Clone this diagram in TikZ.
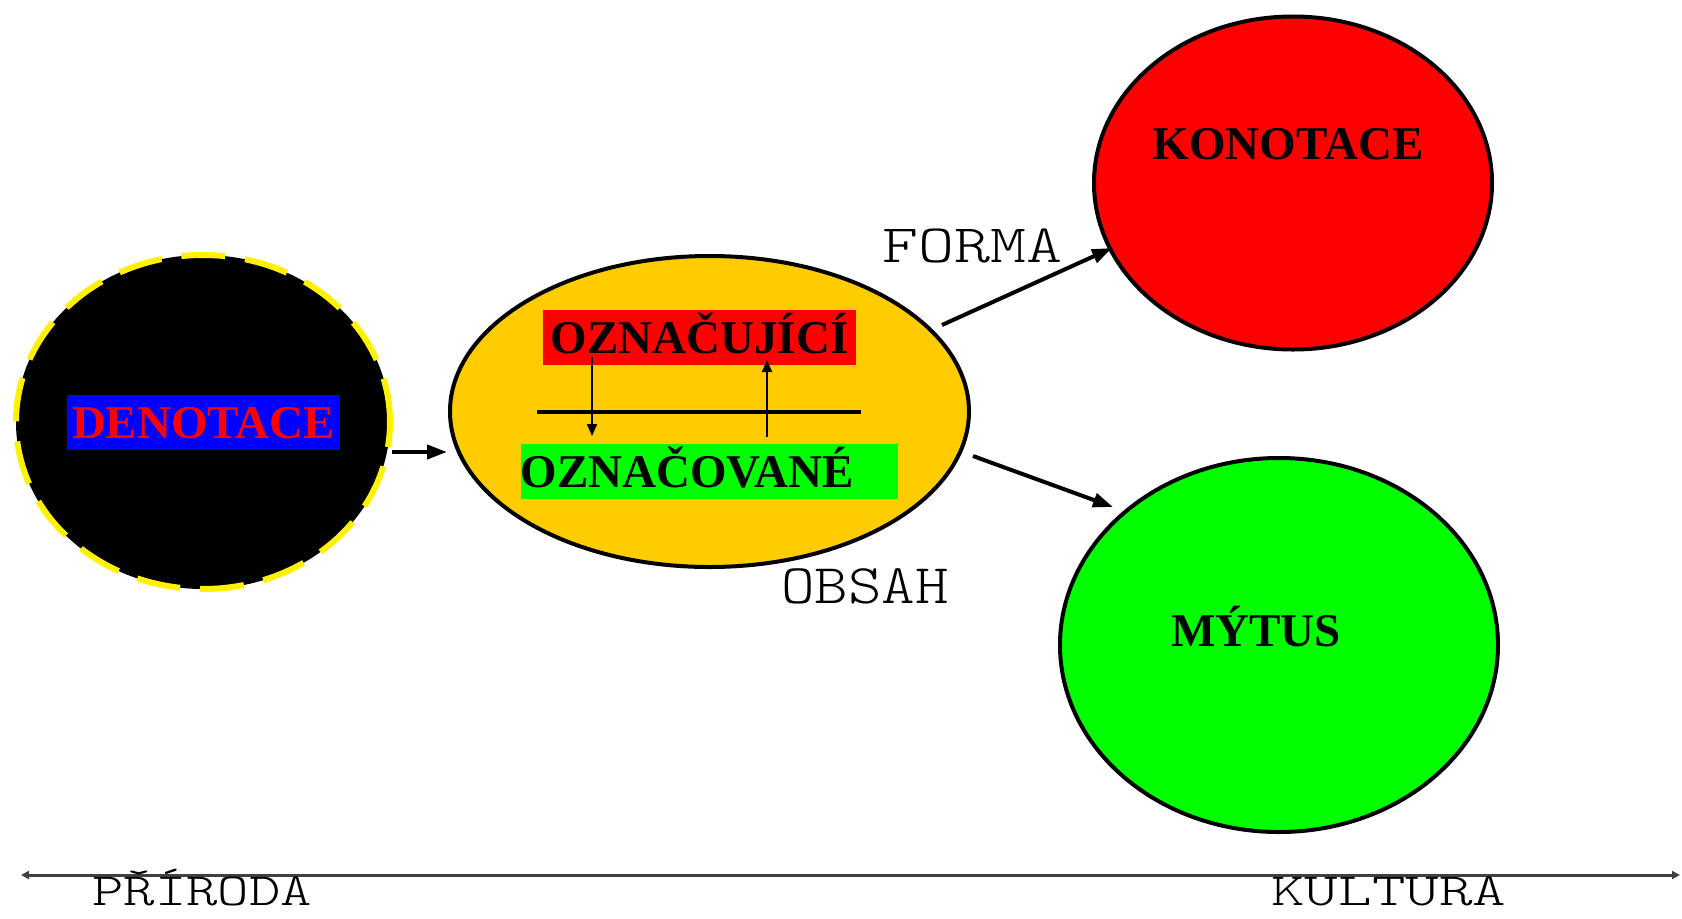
\documentclass[tikz,border=0pt]{standalone}
\usepackage{fontspec}
\usepackage{graphicx}
\setmainfont{Liberation Serif}
\newfontfamily\monofam{Latin Modern Mono Light}
\usetikzlibrary{arrows.meta,shapes.geometric}
\definecolor{ora}{HTML}{FFCC00}
\begin{document}
\begin{tikzpicture}[x=0.5bp,y=-0.5bp,
  bigtxt/.style={font=\fontsize{23.5bp}{28bp}\selectfont\bfseries},
  monotxt/.style={font=\fontsize{#1}{#1}\selectfont\monofam, inner sep=0},
  box/.style={bigtxt, inner sep=0, text height=21.5bp, text depth=6bp},
  blob/.style={ellipse, inner sep=0},
  conn/.style={line width=2bp, -{Triangle[length=10bp,width=7bp]}},
  smallarr/.style={line width=1bp, -{Triangle[length=6bp,width=5bp]}},
]
\useasboundingbox[fill=white] (0,0) rectangle (1682,918);

% denotace
\node[blob, draw=yellow, fill=black, line width=3bp, dash pattern=on 22bp off 10bp,
      minimum width=187bp, minimum height=167bp] (den) at (203,422) {};
\node[box, fill=blue, text=red, minimum width=136.5bp] (denbox) at (203.5,422.5) {DENOTACE};

% orange sign
\node[blob, draw=black, fill=ora, line width=2bp,
      minimum width=259.5bp, minimum height=155.5bp] (ora) at (709.5,411.5) {};
\node[box, fill=red, minimum width=156.5bp] (sig) at (699.5,337.5) {OZNAČUJÍCÍ};
\node[box, fill=green, text width=188.5bp, align=left] (sigd) at (709,471.5) {OZNAČOVANÉ};
\coordinate (h1) at (537,412);
\coordinate (h2) at (861,412);
\draw[line width=2.2bp] (h1) -- (h2);
\coordinate (da) at (592,357);
\coordinate (db) at (592,436);
\draw[smallarr] (da) -- (db);
\coordinate (ua) at (767,437);
\coordinate (ub) at (767,360);
\draw[smallarr] (ua) -- (ub);

% konotace / mytus
\node[blob, draw=black, fill=red, line width=2bp,
      minimum width=199bp, minimum height=166.5bp] (kon) at (1293,183) {};
\node[bigtxt, anchor=base, inner sep=0] (kont) at (1288,159) {KONOTACE};
\node[blob, draw=black, fill=green, line width=2bp,
      minimum width=219bp, minimum height=187bp] (myt) at (1279,645) {};
\node[bigtxt, anchor=base, inner sep=0] (mytt) at (1256,646) {MÝTUS};

% connectors
\coordinate (a1) at (392,452);
\coordinate (a2) at (447,452);
\draw[conn] (a1) -- (a2);
\coordinate (f1) at (942,325);
\coordinate (f2) at (1112,248);
\draw[conn] (f1) -- (f2);
\coordinate (m1) at (973,456);
\coordinate (m2) at (1113,507);
\draw[conn] (m1) -- (m2);

% labels
\node[monotxt=27bp, anchor=base west] (forma) at (882,262) {\scalebox{1.27}[1]{FORMA}};
\node[monotxt=28bp, anchor=base west] (obsah) at (781,603) {\scalebox{1.14}[1]{OBSAH}};

% axis
\coordinate (axL) at (21,875);
\coordinate (axR) at (1680,875);
\draw[line width=1.5bp, black!75, {Triangle[length=4bp,width=4bp]}-{Triangle[length=4bp,width=4bp]}] (axL) -- (axR);
\node[monotxt=23bp, anchor=base west] (prir) at (92,905) {\scalebox{1.3}[1]{PŘÍRODA}};
\node[monotxt=23bp, anchor=base west] (kult) at (1271,905) {\scalebox{1.39}[1]{KULTURA}};
\end{tikzpicture}
\end{document}
